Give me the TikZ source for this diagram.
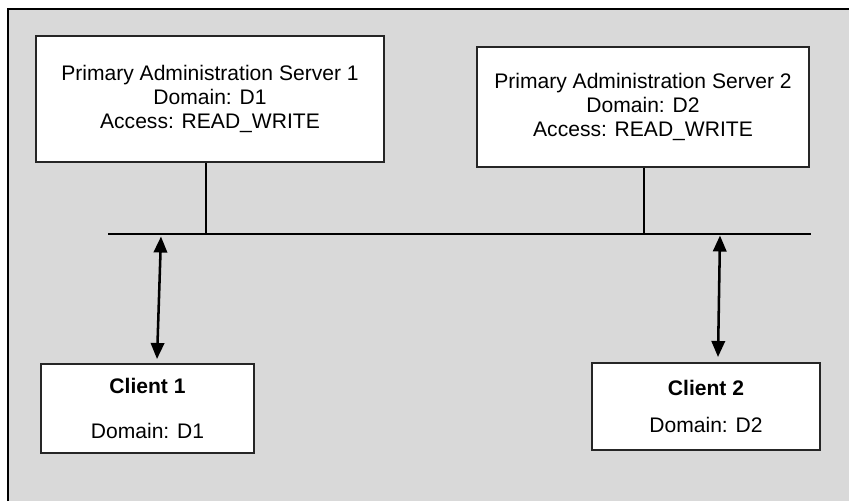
\documentclass[tikz,border=0pt]{standalone}
\usepackage{fontspec}
\setmainfont{Liberation Sans}
\usetikzlibrary{arrows.meta}
\definecolor{bggray}{RGB}{217,217,217}
\begin{document}
\begin{tikzpicture}[x=0.75pt,y=-0.75pt,
  box/.style={draw=black!85, line width=0.8pt, fill=white, inner sep=0pt, align=center,
    font=\fontsize{15.8}{18}\selectfont},
  wire/.style={line width=1.1pt, black},
  link/.style={line width=1.9pt, black, {Triangle[length=12pt,width=10pt]}-{Triangle[length=12pt,width=10pt]}}]
\useasboundingbox (0,0) rectangle (849,501);
\fill[bggray] (8,9) rectangle (849,501);
\draw[line width=1.2pt] (8,501) -- (8,9) -- (849,9);

\node[box, minimum width=348*0.75pt, minimum height=126*0.75pt] (s1) at (210,99)
  {Primary Administration Server 1\\ Domain: D1\\ Access: READ\_WRITE};
\node[box, minimum width=332*0.75pt, minimum height=120*0.75pt] (s2) at (643,107)
  {Primary Administration Server 2\\ Domain: D2\\ Access: READ\_WRITE};
\node[box, minimum width=213*0.75pt, minimum height=89*0.75pt] (c1) at (147.5,408.5)
  {\textbf{Client 1}\\[16pt] Domain: D1};
\node[box, minimum width=228*0.75pt, minimum height=87*0.75pt] (c2) at (706,406.5)
  {\textbf{Client 2}\\[9.5pt] Domain: D2};

\coordinate (busL) at (108,234);
\coordinate (busR) at (811,234);
\coordinate (tap1) at (206,234);
\coordinate (tap2) at (644,234);
\draw[wire] (busL) -- (busR);
\draw[line width=0.9pt] (s1.south -| tap1) -- (tap1);
\draw[line width=0.9pt] (s2.south -| tap2) -- (tap2);

\coordinate (a1t) at (161,236.5);
\coordinate (a1b) at (157,359);
\coordinate (a2t) at (720,235.5);
\coordinate (a2b) at (718,357);
\draw[link] (a1t) -- (a1b);
\draw[link] (a2t) -- (a2b);
\end{tikzpicture}
\end{document}
